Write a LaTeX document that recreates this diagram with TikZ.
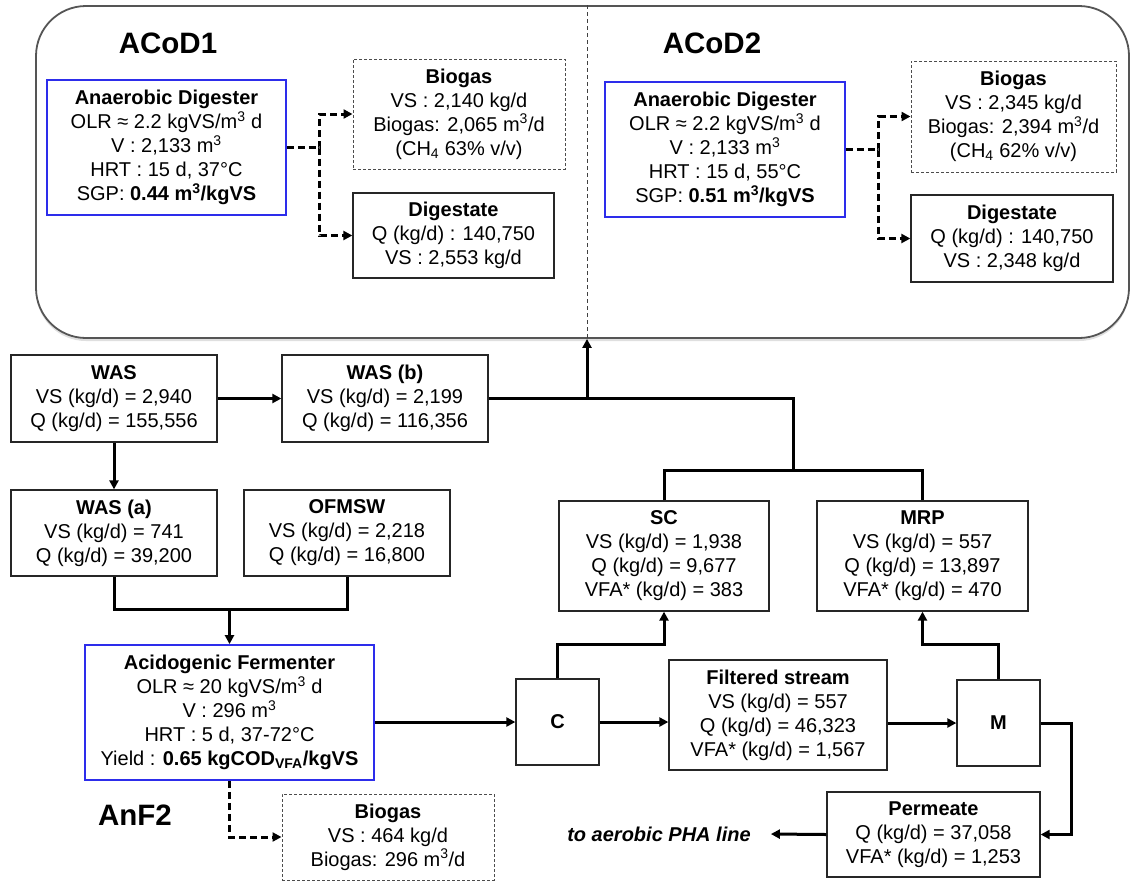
\documentclass[tikz,border=0pt]{standalone}
\usepackage{fontspec}
\setmainfont{Liberation Sans}
\usetikzlibrary{arrows.meta,shadows}
\definecolor{adblue}{RGB}{45,45,235}
\definecolor{framegray}{RGB}{85,85,85}
\newcommand\boxfont{\fontsize{20}{24}\selectfont}
\newcommand\bigfont{\fontsize{29.5}{33}\selectfont\bfseries}
\begin{document}
\begin{tikzpicture}[x=1pt,y=-1pt,
  box/.style={draw=black!85, line width=1.3pt, fill=white, align=center, inner sep=0pt, font=\boxfont},
  bluebox/.style={box, draw=adblue, line width=1.8pt},
  gasbox/.style={box, draw=black!70, line width=1pt, dash pattern=on 3pt off 2pt},
  conn/.style={line width=3pt, line join=miter},
  flow/.style={conn, -{Triangle[length=9pt,width=9pt]}},
  dflow/.style={flow, dash pattern=on 7pt off 4pt},
  title/.style={font=\bigfont, inner sep=0pt}]
\useasboundingbox (0,0) rectangle (1134,884);
% outer ACoD frame
\node[draw=framegray, line width=1.8pt, rounded corners=50pt, minimum width=1093pt, minimum height=332pt, inner sep=0pt,
      drop shadow={opacity=0.25, shadow xshift=0pt, shadow yshift=-3pt}, fill=white] (acod) at (582.5,172) {};
\coordinate (divx) at (587,0);
\draw[black!75, line width=1pt, dash pattern=on 4pt off 3pt] (acod.north -| divx) -- (acod.south -| divx);
% titles
\node[title] (t1) at (168,43) {ACoD1};
\node[title] (t2) at (712,43) {ACoD2};
\node[title] (t3) at (135,815) {AnF2};
% ACoD1
\node[bluebox, minimum width=239pt, minimum height=135pt] (ad1) at (166.5,147.5)
  {\textbf{Anaerobic Digester}\\OLR ≈ 2.2 kgVS/m\textsuperscript{3} d\\V : 2,133 m\textsuperscript{3}\\HRT : 15 d, 37°C\\SGP: \textbf{0.44 m\textsuperscript{3}/kgVS}};
\node[gasbox, minimum width=212pt, minimum height=110pt] (bg1) at (459,114)
  {\textbf{Biogas}\\VS : 2,140 kg/d\\Biogas: 2,065 m\textsuperscript{3}/d\\(CH\textsubscript{4} 63\% v/v)};
\node[box, minimum width=201pt, minimum height=85pt] (dg1) at (453.5,235.5)
  {\textbf{Digestate}\\Q (kg/d) : 140,750\\VS : 2,553 kg/d};
% ACoD2
\node[bluebox, minimum width=240pt, minimum height=135pt] (ad2) at (725,149.5)
  {\textbf{Anaerobic Digester}\\OLR ≈ 2.2 kgVS/m\textsuperscript{3} d\\V : 2,133 m\textsuperscript{3}\\HRT : 15 d, 55°C\\SGP: \textbf{0.51 m\textsuperscript{3}/kgVS}};
\node[gasbox, minimum width=205pt, minimum height=111pt] (bg2) at (1013.5,116.5)
  {\textbf{Biogas}\\VS : 2,345 kg/d\\Biogas: 2,394 m\textsuperscript{3}/d\\(CH\textsubscript{4} 62\% v/v)};
\node[box, minimum width=202pt, minimum height=87pt] (dg2) at (1012,238.5)
  {\textbf{Digestate}\\Q (kg/d) : 140,750\\VS : 2,348 kg/d};
% feed side
\node[box, minimum width=206pt, minimum height=87pt] (was) at (114,398.5)
  {\textbf{WAS}\\VS (kg/d) = 2,940\\Q (kg/d) = 155,556};
\node[box, minimum width=206pt, minimum height=87pt] (wasb) at (385,398.5)
  {\textbf{WAS (b)}\\VS (kg/d) = 2,199\\Q (kg/d) = 116,356};
\node[box, minimum width=206pt, minimum height=86pt] (wasa) at (114,533)
  {\textbf{WAS (a)}\\VS (kg/d) = 741\\Q (kg/d) = 39,200};
\node[box, minimum width=206pt, minimum height=86pt] (ofm) at (347,533)
  {\textbf{OFMSW}\\VS (kg/d) = 2,218\\Q (kg/d) = 16,800};
\node[bluebox, minimum width=289pt, minimum height=135pt] (af) at (229.5,712.5)
  {\textbf{Acidogenic Fermenter}\\OLR ≈ 20 kgVS/m\textsuperscript{3} d\\V : 296 m\textsuperscript{3}\\HRT : 5 d, 37-72°C\\Yield : \textbf{0.65 kgCOD\textsubscript{VFA}/kgVS}};
\node[gasbox, minimum width=212pt, minimum height=86pt] (bg3) at (388,837)
  {\textbf{Biogas}\\VS : 464 kg/d\\Biogas: 296 m\textsuperscript{3}/d};
% separation
\node[box, minimum width=83pt, minimum height=86pt] (cbox) at (557.5,722) {\textbf{C}};
\node[box, minimum width=218pt, minimum height=110pt] (filt) at (778,715)
  {\textbf{Filtered stream}\\VS (kg/d) = 557\\Q (kg/d) = 46,323\\VFA* (kg/d) = 1,567};
\node[box, minimum width=83pt, minimum height=86pt] (mbox) at (998.5,723) {\textbf{M}};
\node[box, minimum width=213pt, minimum height=85pt] (perm) at (933.5,834.5)
  {\textbf{Permeate}\\Q (kg/d) = 37,058\\VFA* (kg/d) = 1,253};
\node[box, minimum width=210pt, minimum height=110pt] (sc) at (664,556)
  {\textbf{SC}\\VS (kg/d) = 1,938\\Q (kg/d) = 9,677\\VFA* (kg/d) = 383};
\node[box, minimum width=211pt, minimum height=110pt] (mrp) at (922.5,556)
  {\textbf{MRP}\\VS (kg/d) = 557\\Q (kg/d) = 13,897\\VFA* (kg/d) = 470};
\node[font=\boxfont\bfseries\itshape, inner xsep=20pt, inner ysep=0pt] (pha) at (659,834) {to aerobic PHA line};
% helper coordinates
\coordinate (m1) at (229.5,609);
\coordinate (k1) at (0,644);
\coordinate (j2) at (793,470);
% dashed outputs
\draw[dflow] (ad1.east) -- ++(33,0) |- (bg1.west);
\draw[dflow] (ad1.east) -- ++(33,0) |- (dg1.west);
\draw[dflow] (ad2.east) -- ++(33,0) |- (bg2.west);
\draw[dflow] (ad2.east) -- ++(33,0) |- (dg2.west);
\draw[dflow] (af.south) |- (bg3.west);
% solid flows
\draw[flow] (was.east) -- (wasb.west);
\draw[flow] (was.south) -- (wasa.north);
\draw[conn] (wasa.south) |- (m1) -| (ofm.south);
\draw[flow] (m1) -- (af.north);
\draw[flow] (af.east |- cbox.west) -- (cbox.west);
\draw[flow] (cbox.north) |- (sc.south |- k1) -- (sc.south);
\draw[flow] (cbox.east) -- (filt.west |- cbox.east);
\draw[flow] (filt.east |- mbox.west) -- (mbox.west);
\draw[flow] (mbox.north) |- (mrp.south |- k1) -- (mrp.south);
\draw[flow] (mbox.east) -- ++(31,0) |- (perm.east);
\draw[flow] (perm.west) -- (pha.east);
\draw[conn] (sc.north) -- (sc.north |- j2) -- (mrp.north |- j2) -- (mrp.north);
\draw[conn] (wasb.east) -- (wasb.east -| j2) -- (j2);
\draw[flow] (wasb.east -| divx) -- (acod.south -| divx);
\end{tikzpicture}
\end{document}
